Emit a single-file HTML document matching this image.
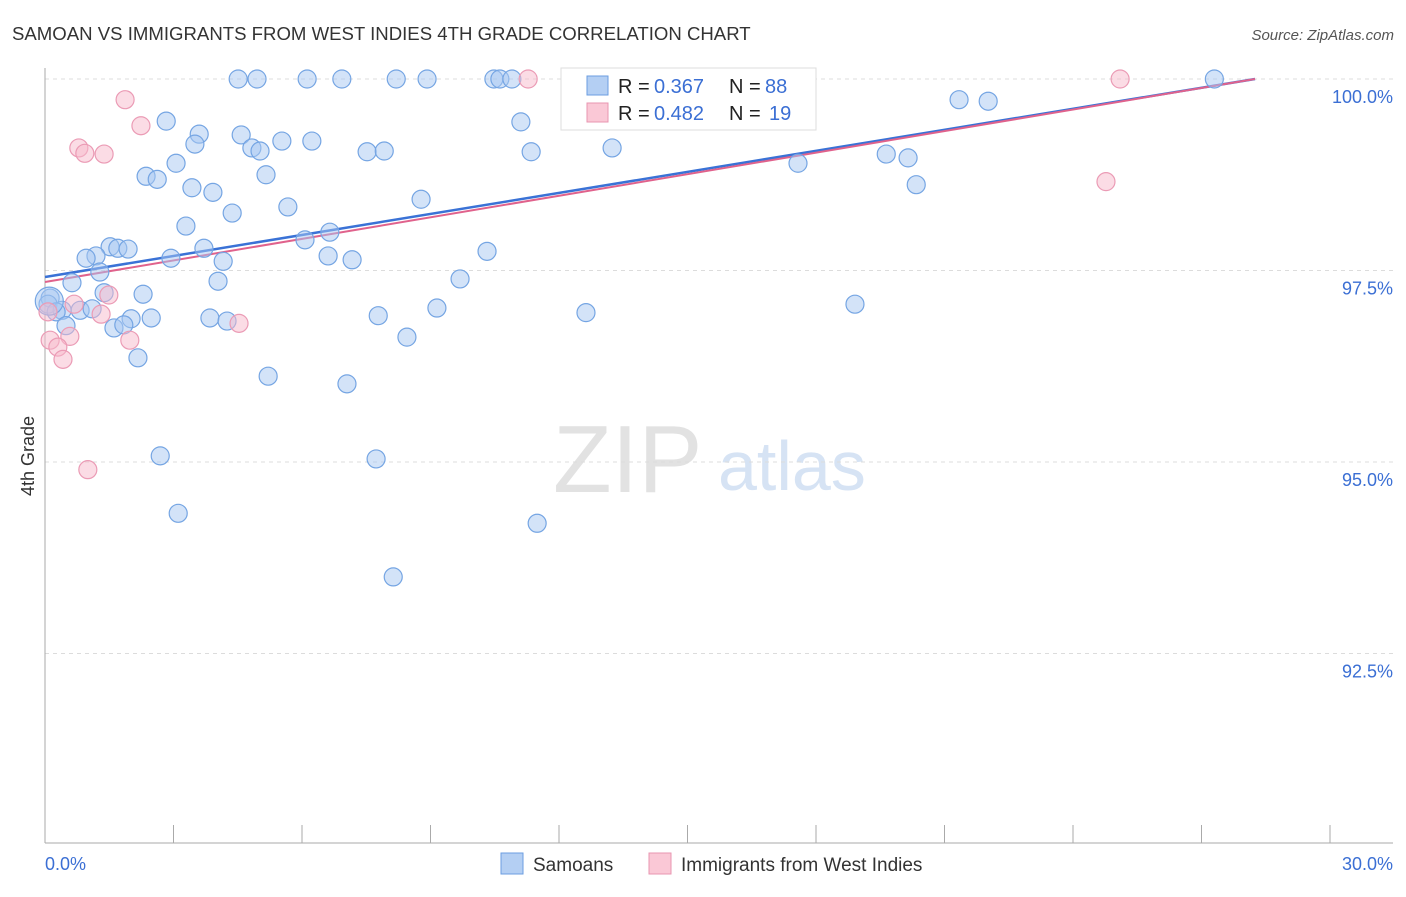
<!DOCTYPE html>
<html><head><meta charset="utf-8">
<style>
body{margin:0;background:#fff;font-family:"Liberation Sans",sans-serif;}
svg text{font-family:"Liberation Sans",sans-serif;}
</style></head>
<body>
<svg id="chart" width="1406" height="892" xmlns="http://www.w3.org/2000/svg">
<text x="12" y="40" font-size="18.6" fill="#333">SAMOAN VS IMMIGRANTS FROM WEST INDIES 4TH GRADE CORRELATION CHART</text>
<text x="1394" y="40" font-size="15" fill="#555" text-anchor="end" font-style="italic">Source: ZipAtlas.com</text>
<g>
<text x="553" y="492" font-size="96" fill="#e2e2e2" font-family="Liberation Serif,serif">ZIP</text>
<text x="718" y="490" font-size="70" fill="#d6e3f4">atlas</text>
</g>
<g id="grid"></g>
<g id="axes"></g>
<g id="lines"></g>
<g id="points"></g>
<text transform="translate(34,456) rotate(-90)" font-size="18" fill="#333" text-anchor="middle">4th Grade</text>
<g>
<rect x="561" y="68" width="255" height="62" fill="#fff" stroke="#ddd"/>
<rect x="587" y="76" width="21" height="19" fill="#b4cff3" stroke="#6b9ee0"/>
<text x="618" y="93" font-size="20" fill="#222">R =</text>
<text x="654" y="93" font-size="20" fill="#3b6fd4">0.367</text>
<text x="729" y="93" font-size="20" fill="#222">N =</text>
<text x="765" y="93" font-size="20" fill="#3b6fd4">88</text>
<rect x="587" y="103" width="21" height="19" fill="#fac8d6" stroke="#e896b0"/>
<text x="618" y="120" font-size="20" fill="#222">R =</text>
<text x="654" y="120" font-size="20" fill="#3b6fd4">0.482</text>
<text x="729" y="120" font-size="20" fill="#222">N =</text>
<text x="769" y="120" font-size="20" fill="#3b6fd4">19</text>
</g>
<g>
<rect x="501" y="853" width="22" height="21" fill="#b4cff3" stroke="#6b9ee0"/>
<text x="533" y="871" font-size="19" fill="#333">Samoans</text>
<rect x="649" y="853" width="22" height="21" fill="#fac8d6" stroke="#e896b0"/>
<text x="681" y="871" font-size="19" fill="#333">Immigrants from West Indies</text>
</g>
</svg>
<script>
const yTicks=[100,97.5,95,92.5];
const yTickLabels=["100.0%","97.5%","95.0%","92.5%"];
const xTicks=[0,3,6,9,12,15,18,21,24,27,30];
const blueX=[4.51,4.95,6.12,6.93,8.20,8.92,10.48,10.62,10.90,12.33,14.01,14.97,27.30,2.83,3.60,3.50,4.58,4.83,5.02,5.53,6.23,7.52,7.92,11.11,11.35,13.24,21.34,22.02,19.64,20.15,17.58,3.06,2.36,2.62,5.16,3.43,3.92,20.34,8.78,5.67,4.37,3.29,6.07,6.65,1.52,1.70,1.94,3.71,10.32,1.19,0.96,2.94,4.16,6.61,7.17,1.28,9.69,4.04,0.63,2.29,1.38,18.91,0.12,0.07,0.40,0.26,0.82,1.10,9.15,12.63,2.01,2.48,3.85,4.25,7.78,0.49,1.61,1.84,8.45,2.17,5.21,7.05,2.69,7.73,3.11,11.49,8.13,0.10];
const blueY=[100,100,100,100,100,100,100,100,100,100,100,100,100,99.45,99.28,99.15,99.27,99.10,99.06,99.19,99.19,99.05,99.06,99.44,99.05,99.10,99.73,99.71,99.02,98.97,98.90,98.90,98.73,98.69,98.75,98.58,98.52,98.62,98.43,98.33,98.25,98.08,97.90,98.00,97.81,97.79,97.78,97.79,97.75,97.69,97.66,97.66,97.62,97.69,97.64,97.48,97.39,97.36,97.34,97.19,97.21,97.06,97.14,97.06,96.98,96.96,96.98,97.00,97.01,96.95,96.87,96.88,96.88,96.84,96.91,96.78,96.75,96.79,96.63,96.36,96.12,96.02,95.08,95.04,94.33,94.20,93.50,97.10];
const pinkX=[11.28,25.10,1.87,2.24,0.79,0.93,1.38,24.77,1.49,0.68,1.31,4.53,1.98,0.58,0.12,0.30,0.42,1.00,0.07];
const pinkY=[100,100,99.73,99.39,99.10,99.03,99.02,98.66,97.18,97.06,96.93,96.81,96.59,96.64,96.59,96.50,96.34,94.90,96.96];
const blueLine=[[0,97.415],[28.25,100]];
const pinkLine=[[0,97.35],[28.25,100]];
const NS="http://www.w3.org/2000/svg";
function sx(v){return 45+v/30*1285;}
function sy(v){return 79+(100-v)/2.5*191.5;}
function mk(tag,attrs,parent){const e=document.createElementNS(NS,tag);for(const k in attrs)e.setAttribute(k,attrs[k]);parent.appendChild(e);return e;}
const grid=document.getElementById('grid'),axes=document.getElementById('axes'),lines=document.getElementById('lines'),pts=document.getElementById('points');
yTicks.forEach((t,i)=>{
 const l=mk('line',{x1:45,x2:1393,y1:sy(t),y2:sy(t),stroke:'#dcdcdc','stroke-dasharray':'4,4'},grid);
 
 
 const tx=mk('text',{x:1393,y:sy(t)+24,'font-size':18,fill:'#3b6fd4','text-anchor':'end'},axes);
 tx.textContent=yTickLabels[i];
 
 
});
const ya=mk('line',{x1:45,x2:45,y1:68,y2:843,stroke:'#aaa'},axes);


const xa=mk('line',{x1:45,x2:1393,y1:843,y2:843,stroke:'#aaa'},axes);


xTicks.forEach(t=>{
 const l=mk('line',{x1:sx(t),x2:sx(t),y1:825,y2:843,stroke:'#aaa'},axes);
 
 
});
[[0,"0.0%","start",45],[30,"30.0%","end",1393]].forEach(a=>{
 const tx=mk('text',{x:a[3],y:870,'font-size':18,fill:'#3b6fd4','text-anchor':a[2]},axes);
 tx.textContent=a[1];
 
 
});
function drawPts(X,Y,fill,stroke,name){
 X.forEach((x,i)=>{
  const r=(name==='samoan-point'&&i===X.length-1)?14:9;
  const c=mk('circle',{cx:sx(x),cy:sy(Y[i]),r:r,fill:fill,stroke:stroke,'stroke-width':1.2},pts);
  
  
 });
}
drawPts(blueX,blueY,'rgba(168,200,242,0.5)','#75a5e3','samoan-point');
drawPts(pinkX,pinkY,'rgba(247,185,204,0.5)','#eb9bb5','west-indies-point');
const bl=mk('line',{x1:sx(blueLine[0][0]),y1:sy(blueLine[0][1]),x2:sx(blueLine[1][0]),y2:sy(blueLine[1][1]),stroke:'#3a72d6','stroke-width':2.5},lines);


const pl=mk('line',{x1:sx(pinkLine[0][0]),y1:sy(pinkLine[0][1]),x2:sx(pinkLine[1][0]),y2:sy(pinkLine[1][1]),stroke:'#e0628c','stroke-width':2},lines);


</script>
</body></html>
